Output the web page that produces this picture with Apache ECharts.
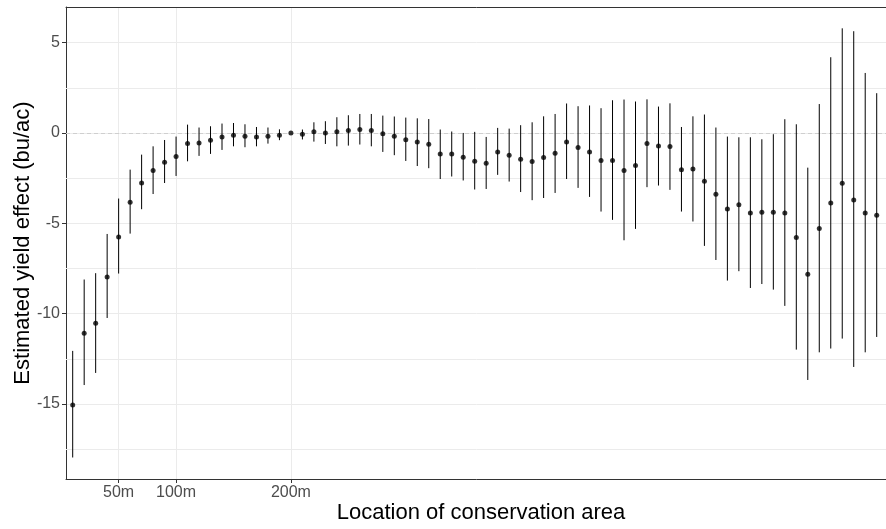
<!DOCTYPE html>
<html>
<head>
<meta charset="utf-8">
<script src="https://cdn.jsdelivr.net/npm/echarts@6/dist/echarts.min.js"></script>
<style>
html,body{margin:0;padding:0;background:#fff;}
#main{width:886px;height:529px;}
</style>
</head>
<body>
<div id="main"></div>
<script>
// distance of conservation area (m)
var dist = [10,20,30,40,50,60,70,80,90,100,110,120,130,140,150,160,170,180,190,200,
    210,220,230,240,250,260,270,280,290,300,310,320,330,340,350,360,370,380,390,400,
    410,420,430,440,450,460,470,480,490,500,510,520,530,540,550,560,570,580,590,600,
    610,620,630,640,650,660,670,680,690,700,710];
// estimate
var est = [-15.05,-11.08,-10.53,-7.97,-5.76,-3.84,-2.77,-2.08,-1.62,-1.31,
    -0.59,-0.55,-0.40,-0.22,-0.13,-0.18,-0.22,-0.18,-0.13,0,
    -0.07,0.06,0,0.06,0.13,0.19,0.13,-0.04,-0.18,-0.37,
    -0.50,-0.63,-1.16,-1.16,-1.34,-1.57,-1.68,-1.05,-1.23,-1.46,
    -1.58,-1.36,-1.12,-0.50,-0.81,-1.05,-1.53,-1.53,-2.08,-1.80,
    -0.59,-0.72,-0.75,-2.03,-1.99,-2.67,-3.39,-4.21,-3.98,-4.43,
    -4.39,-4.39,-4.43,-5.79,-7.82,-5.29,-3.87,-2.78,-3.71,-4.43,-4.55];
// lower bound
var lo = [-17.96,-13.95,-13.28,-10.24,-7.78,-5.57,-4.22,-3.38,-2.77,-2.38,
    -1.57,-1.27,-1.16,-0.94,-0.74,-0.79,-0.74,-0.59,-0.40,0,
    -0.36,-0.48,-0.61,-0.74,-0.70,-0.64,-0.74,-1.05,-1.23,-1.55,
    -1.83,-1.95,-2.55,-2.41,-2.63,-3.13,-3.10,-2.32,-2.69,-3.27,
    -3.72,-3.60,-3.32,-2.55,-3.04,-3.54,-4.35,-4.81,-5.94,-5.31,
    -3.00,-2.91,-3.15,-4.35,-4.90,-6.25,-7.03,-8.17,-7.65,-8.58,
    -8.36,-8.67,-9.57,-11.99,-13.67,-12.14,-11.93,-11.38,-12.95,-12.14,-11.29];
// upper bound
var hi = [-12.06,-8.11,-7.76,-5.59,-3.63,-2.03,-1.20,-0.74,-0.39,-0.20,
    0.46,0.30,0.37,0.52,0.55,0.48,0.33,0.30,0.20,0,
    0.19,0.59,0.65,0.87,0.98,1.05,1.05,0.96,0.91,0.85,
    0.81,0.77,0.19,0.08,0.00,0.06,-0.22,0.28,0.24,0.43,
    0.59,0.92,1.05,1.63,1.48,1.52,1.37,1.81,1.85,1.74,
    1.86,1.46,1.64,0.33,0.92,1.02,0.30,-0.20,-0.24,-0.24,
    -0.35,-0.07,0.76,0.48,-1.92,1.60,4.19,5.79,5.63,3.32,2.20];
// axis breaks
var xBreaks = [50,100,200];
var yBreaks = [-15,-10,-5,0,5];
var yMinorBreaks = [-17.5,-12.5,-7.5,-2.5,2.5];

var pointData = [];
var barData = [];
for (var i = 0; i < dist.length; i++) {
    pointData.push([dist[i], est[i]]);
    barData.push([dist[i], lo[i], hi[i]]);
}

var font = "'Liberation Sans', Arial, sans-serif";
var border = {show: true, onZero: false, lineStyle: {color: '#333', width: 1}};
var myChart = echarts.init(document.getElementById('main'));
var option = {
    animation: false,
    backgroundColor: '#fff',
    grid: {
        left: 66, top: 7, right: -10, bottom: 50,
        outerBoundsMode: 'none',
        containLabel: false,
        show: false
    },
    xAxis: [{
        type: 'value',
        position: 'bottom',
        min: 4.17,
        max: 726.8,
        name: 'Location of conservation area',
        nameLocation: 'middle',
        nameGap: 23,
        nameMoveOverlap: false,
        nameTextStyle: {fontSize: 22, color: '#000', fontFamily: font},
        axisLine: border,
        axisTick: {show: true, length: 4, customValues: xBreaks, lineStyle: {color: '#333'}},
        axisLabel: {
            customValues: xBreaks, fontSize: 16, color: '#4D4D4D', fontFamily: font, margin: 6,
            formatter: function (v) { return v + 'm'; }
        },
        splitLine: {show: true, lineStyle: {color: '#EBEBEB', width: 1}}
    }, {
        // top panel border
        type: 'value',
        position: 'top',
        min: 4.17,
        max: 726.8,
        axisLine: border,
        axisTick: {show: false},
        axisLabel: {show: false},
        splitLine: {show: false}
    }],
    yAxis: {
        type: 'value',
        min: -19.15,
        max: 6.97,
        name: 'Estimated yield effect (bu/ac)',
        nameLocation: 'middle',
        nameGap: 32,
        nameMoveOverlap: false,
        nameTextStyle: {fontSize: 22, color: '#000', fontFamily: font},
        axisLine: border,
        axisTick: {show: true, length: 4, customValues: yBreaks, lineStyle: {color: '#333'}},
        axisLabel: {customValues: yBreaks, fontSize: 16, color: '#4D4D4D', fontFamily: font, margin: 6},
        splitLine: {show: true, lineStyle: {color: '#EBEBEB', width: 1}}
    },
    series: [
        {
            // minor gridlines + zero reference
            type: 'line',
            data: [],
            z: 1,
            silent: true,
            markLine: {
                silent: true,
                z: 1,
                symbol: 'none',
                label: {show: false},
                animation: false,
                data: yMinorBreaks.map(function (v) {
                    return {yAxis: v, lineStyle: {color: '#EBEBEB', width: 1, type: 'solid'}};
                }).concat([{yAxis: 0, lineStyle: {color: '#CFCFCF', width: 1, type: [4, 3]}}])
            }
        },
        {
            type: 'custom',
            z: 2,
            silent: true,
            data: barData,
            renderItem: function (params, api) {
                var p1 = api.coord([api.value(0), api.value(1)]);
                var p2 = api.coord([api.value(0), api.value(2)]);
                return {
                    type: 'line',
                    shape: {x1: p1[0], y1: p1[1], x2: p2[0], y2: p2[1]},
                    style: {stroke: '#000', lineWidth: 1}
                };
            }
        },
        {
            type: 'scatter',
            z: 3,
            silent: true,
            symbol: 'circle',
            symbolSize: 5,
            itemStyle: {color: '#000'},
            data: pointData
        }
    ]
};
myChart.setOption(option);
</script>
</body>
</html>
